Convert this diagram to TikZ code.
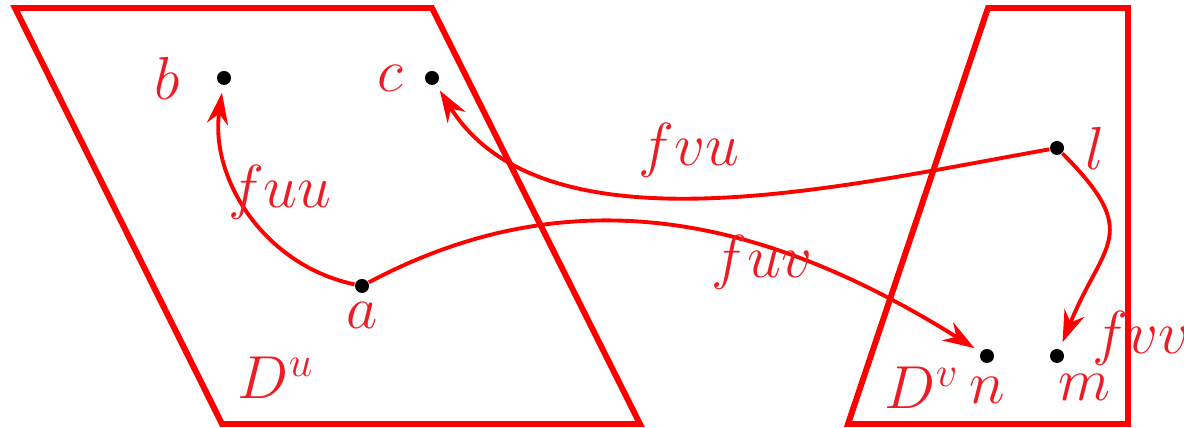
\documentclass[tikz,border=0pt]{standalone}
\usepackage{tikz}
\usetikzlibrary{positioning, arrows.meta, calc}
\usepackage{amsmath}
\definecolor{lblred}{HTML}{ED1C24}

\begin{document}
\begin{tikzpicture}[x=0.01cm, y=-0.01cm,
          dom/.style={draw=red, line width=1.7pt, line join=miter},
          pt/.style={circle, fill=black, inner sep=0pt, minimum size=0.14cm},
          lbl/.style={text=lblred, font=\fontsize{16.8}{20}\selectfont, inner sep=1pt},
          arr/.style={-{Stealth[length=9pt, width=6pt]}, red, line width=1.1pt, shorten >=2pt}]
        \useasboundingbox (0,0) rectangle (1184,428);
        % points
        \node[pt] (b) at (224,78) {};
        \node[pt] (c) at (432,78) {};
        \node[pt] (a) at (362,286) {};
        \node[pt] (l) at (1057,148) {};
        \node[pt] (n) at (987,356) {};
        \node[pt] (m) at (1057,356) {};
        \node[lbl, left=0.32cm of b] (bl) {$b$};
        \node[lbl, left=0.17cm of c] (cl) {$c$};
        \node[lbl, below=0.04cm of a] (al) {$a$};
        \node[lbl, right=0.17cm of l] (ll) {$l$};
        \node[lbl, below=0.09cm of n] (nl) {$n$};
        \node[lbl, below right=0.09cm and -0.08cm of m] (ml) {$m$};
        % maps
        \draw[arr] (a) to[out=168, in=-98] (b);
        \draw[arr] (l) to[out=190, in=-58, looseness=0.85] (c);
        \draw[arr] (a) to[out=28, in=148] (n);
        \draw[arr] (l) to[out=-45, in=68, looseness=1.5] (m);
        \node[lbl] (fuu) at (280,192) {$fuu$};
        \node[lbl] (fvu) at (689,150) {$fvu$};
        \node[lbl] (fuv) at (762,262) {$fuv$};
        \node[lbl] (fvv) at (1141,338) {$fvv$};
        % domains
        \draw[dom] (15,8) -- (432,8) -- (640,424) -- (222,424) -- cycle;
        \draw[dom] (988,8) -- (1128,8) -- (1128,424) -- (848,424) -- cycle;
        \node[lbl] (du) at (276,378) {$D^u$};
        \node[lbl] (dv) at (922,388) {$D^v$};
      \end{tikzpicture}
\end{document}
